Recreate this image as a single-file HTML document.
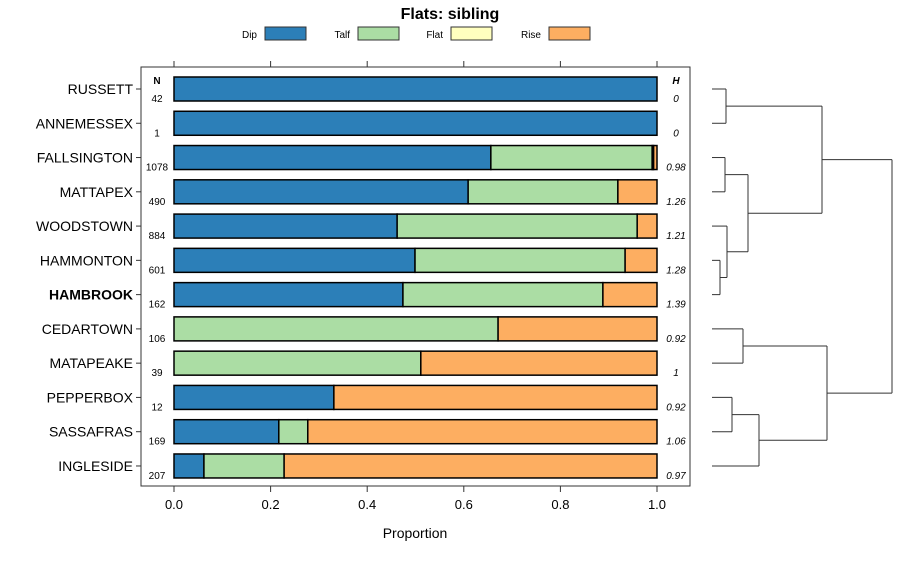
<!DOCTYPE html>
<html><head><meta charset="utf-8"><style>body{margin:0;background:#fff}svg{font-family:"Liberation Sans",sans-serif}</style></head>
<body>
<svg id="c" width="900" height="560"></svg>
<script>
const sites=["RUSSETT","ANNEMESSEX","FALLSINGTON","MATTAPEX","WOODSTOWN","HAMMONTON","HAMBROOK","CEDARTOWN","MATAPEAKE","PEPPERBOX","SASSAFRAS","INGLESIDE"];
const dip =[1,1,0.656,0.609,0.462,0.499,0.474,0,0,0.331,0.217,0.062];
const talf=[0,0,0.334,0.310,0.497,0.435,0.414,0.671,0.511,0,0.060,0.166];
const flat=[0,0,0.003,0,0,0,0,0,0,0,0,0];
const rise=[0,0,0.007,0.081,0.041,0.066,0.112,0.329,0.489,0.669,0.723,0.772];
const nVals=["42","1","1078","490","884","601","162","106","39","12","169","207"];
const hVals=["0","0","0.98","1.26","1.21","1.28","1.39","0.92","1","0.92","1.06","0.97"];
const ticks=[0,0.2,0.4,0.6,0.8,1.0];
const tickLabels=["0.0","0.2","0.4","0.6","0.8","1.0"];
const cats=["Dip","Talf","Flat","Rise"];
const colors=["#2c7fb8","#abdda4","#ffffbf","#fdae61"];
const svg=document.getElementById('c');const NS="http://www.w3.org/2000/svg";
function el(t,a,txt){const e=document.createElementNS(NS,t);for(const k in a)e.setAttribute(k,a[k]);if(txt!==undefined)e.textContent=txt;svg.appendChild(e);return e;}
const X=v=>174+v*483, Y=i=>89+i*34.27;
let e=el('text',{x:450,y:19,'text-anchor':'middle','font-size':16,'font-weight':'bold'},'Flats: sibling');

const lx=[265,358,451,549];
cats.forEach((c,k)=>{
 e=el('text',{x:lx[k]-8,y:38,'text-anchor':'end','font-size':10},c);
 
 e=el('rect',{x:lx[k],y:27,width:41,height:13,fill:colors[k],stroke:'#333'});
 
});
e=el('rect',{x:141,y:67,width:549,height:419,fill:'none',stroke:'#333'});

ticks.forEach((t,k)=>{
 el('line',{x1:X(t),x2:X(t),y1:61,y2:67,stroke:'#333'});
 el('line',{x1:X(t),x2:X(t),y1:486,y2:492,stroke:'#333'});
 e=el('text',{x:X(t),y:509,'text-anchor':'middle','font-size':13},tickLabels[k]);
 
});
e=el('text',{x:415,y:538,'text-anchor':'middle','font-size':14},'Proportion');

e=el('text',{x:157,y:84,'text-anchor':'middle','font-size':10,'font-weight':'bold'},'N');

e=el('text',{x:676,y:84,'text-anchor':'middle','font-size':10,'font-weight':'bold','font-style':'italic'},'H');

sites.forEach((s,i)=>{
 const y=Y(i);
 el('line',{x1:136,x2:141,y1:y,y2:y,stroke:'#333'});
 e=el('text',{x:133,y:y+5,'text-anchor':'end','font-size':14,'font-weight':s==='HAMBROOK'?'bold':'normal'},s);
 
 e=el('text',{x:157,y:y+13,'text-anchor':'middle','font-size':10},nVals[i]);
 
 e=el('text',{x:676,y:y+13,'text-anchor':'middle','font-size':10,'font-style':'italic'},hVals[i]);
 
 let acc=0;[dip,talf,flat,rise].forEach((arr,k)=>{
  const v=arr[i];if(v<=0)return;
  e=el('rect',{x:X(acc),y:y-12,width:X(acc+v)-X(acc),height:24,fill:colors[k],stroke:'#000','stroke-width':1.5});
  
  acc+=v;
 });
});
const leafX=712;
function seg(x1,y1,x2,y2){e=el('line',{x1:x1,y1:y1,x2:x2,y2:y2,stroke:'#333'});}
function merge(a,b,h){seg(a.x,a.y,h,a.y);seg(b.x,b.y,h,b.y);seg(h,a.y,h,b.y);return {x:h,y:(a.y+b.y)/2};}
const L=i=>({x:leafX,y:Y(i)});
const ra=merge(L(0),L(1),726);
const fm=merge(L(2),L(3),725);
const hh=merge(L(5),L(6),720);
const whh=merge(L(4),hh,727);
const g1=merge(fm,whh,748);
const upperGroup=merge(ra,g1,822);
const cm=merge(L(7),L(8),743);
const ps=merge(L(9),L(10),732);
const psi=merge(ps,L(11),759);
const lowerGroup=merge(cm,psi,827);
merge(upperGroup,lowerGroup,892);
</script>
</body></html>
